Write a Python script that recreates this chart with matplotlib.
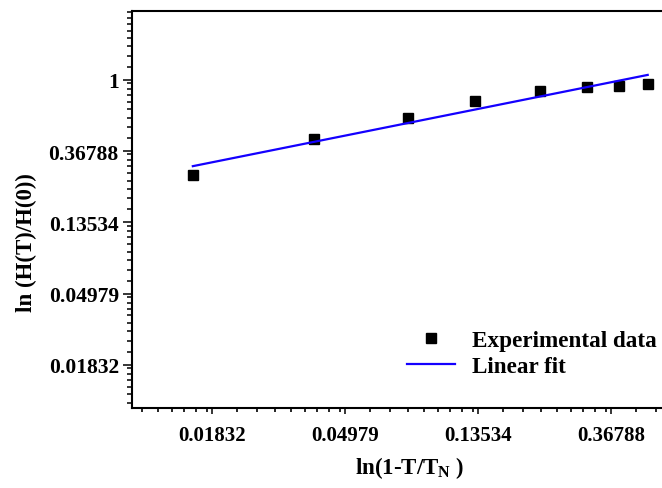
import numpy as np
import matplotlib
matplotlib.use("Agg")
import matplotlib.pyplot as plt
from matplotlib.ticker import FixedLocator, FixedFormatter, NullFormatter

# reduced temperature (1 - T/TN) and normalised field H(T)/H(0)
reduced_t = [0.0158, 0.0392, 0.0797, 0.1322, 0.2142, 0.3055, 0.390, 0.483]
h_ratio = [0.265, 0.435, 0.585, 0.745, 0.861, 0.907, 0.923, 0.941]

# straight-line fit in log-log space: ln y = intercept + slope * ln x
fit_slope = 0.3745
fit_intercept = 0.3425

# axis tick labels (powers of e)
x_tick_labels = ["0.01832", "0.04979", "0.13534", "0.36788"]
y_tick_labels = ["0.01832", "0.04979", "0.13534", "0.36788", "1"]
x_tick_powers = [-4, -3, -2, -1]
y_tick_powers = [-4, -3, -2, -1, 0]

plt.rcParams["font.family"] = ["Liberation Serif", "DejaVu Serif"]
plt.rcParams["font.weight"] = "bold"
plt.rcParams["mathtext.fontset"] = "custom"
plt.rcParams["mathtext.rm"] = "Liberation Serif:bold"
plt.rcParams["mathtext.bf"] = "Liberation Serif:bold"

W, H = 662, 489
fig = plt.figure(figsize=(W / 100, H / 100), dpi=100)

xlim = (0.01, 0.57)
ylim = (0.01, 2.63)
left_px, bottom_px, top_px = 132, 409, 12
px_per_unit = 133.0
width_px = np.log(xlim[1] / xlim[0]) * px_per_unit
ax = fig.add_axes([left_px / W, (H - bottom_px) / H, width_px / W, (bottom_px - top_px) / H])

ax.set_xscale("log", base=np.e)
ax.set_yscale("log", base=np.e)
ax.set_xlim(*xlim)
ax.set_ylim(*ylim)

ax.plot(reduced_t, h_ratio, linestyle="none", marker="s", markersize=7.2,
        color="black", label="Experimental data")

xf = np.array([reduced_t[0], reduced_t[-1]])
yf = np.exp(fit_intercept + fit_slope * np.log(xf))
ax.plot(xf, yf, color="#1400ff", linewidth=1.6, label="Linear fit")

# major ticks on powers of e, minor ticks at linear steps inside each e-decade
subs = [1.2, 1.4, 1.6, 1.8, 2.0, 2.2, 2.4, 2.6]
minor_vals = [np.exp(k) * s for k in range(-6, 2) for s in subs]

ax.xaxis.set_major_locator(FixedLocator([np.exp(p) for p in x_tick_powers]))
ax.xaxis.set_major_formatter(FixedFormatter(x_tick_labels))
ax.yaxis.set_major_locator(FixedLocator([np.exp(p) for p in y_tick_powers]))
ax.yaxis.set_major_formatter(FixedFormatter(y_tick_labels))
ax.xaxis.set_minor_locator(FixedLocator(minor_vals))
ax.yaxis.set_minor_locator(FixedLocator(minor_vals))
ax.xaxis.set_minor_formatter(NullFormatter())
ax.yaxis.set_minor_formatter(NullFormatter())

for s in ax.spines.values():
    s.set_linewidth(1.5)

ax.tick_params(axis="y", which="major", direction="out", length=6.5, width=1.1,
               labelsize=15.5, pad=3)
ax.tick_params(axis="y", which="minor", direction="out", length=3.6, width=1.1)
ax.tick_params(axis="x", which="major", direction="out", length=4.5, width=1.1,
               labelsize=15, pad=8)
ax.tick_params(axis="x", which="minor", direction="out", length=3.2, width=1.2)
ax.tick_params(top=False, right=False, which="both")

ax.set_ylabel("ln (H(T)/H(0))", fontsize=16.5, fontweight="bold")
ax.set_xlabel(r"ln(1-T/T$_\mathrm{N}$ )", fontsize=16.5, fontweight="bold")
ax.yaxis.set_label_coords((26 - left_px) / width_px, (bottom_px - 243) / (bottom_px - top_px))
ax.yaxis.label.set_va("center")
ax.xaxis.set_label_coords((410 - left_px) / width_px, -(468 - bottom_px) / (bottom_px - top_px))
ax.xaxis.label.set_va("center")

leg = ax.legend(loc="upper left", bbox_to_anchor=(407 / W, 1 - 331 / H),
                bbox_transform=fig.transFigure, frameon=False, fontsize=16.7,
                handlelength=2.07, handletextpad=0.72, borderpad=0,
                labelspacing=0.2, borderaxespad=0, numpoints=1)
for t in leg.get_texts():
    t.set_fontweight("bold")

fig.savefig("out.png", dpi=100)
